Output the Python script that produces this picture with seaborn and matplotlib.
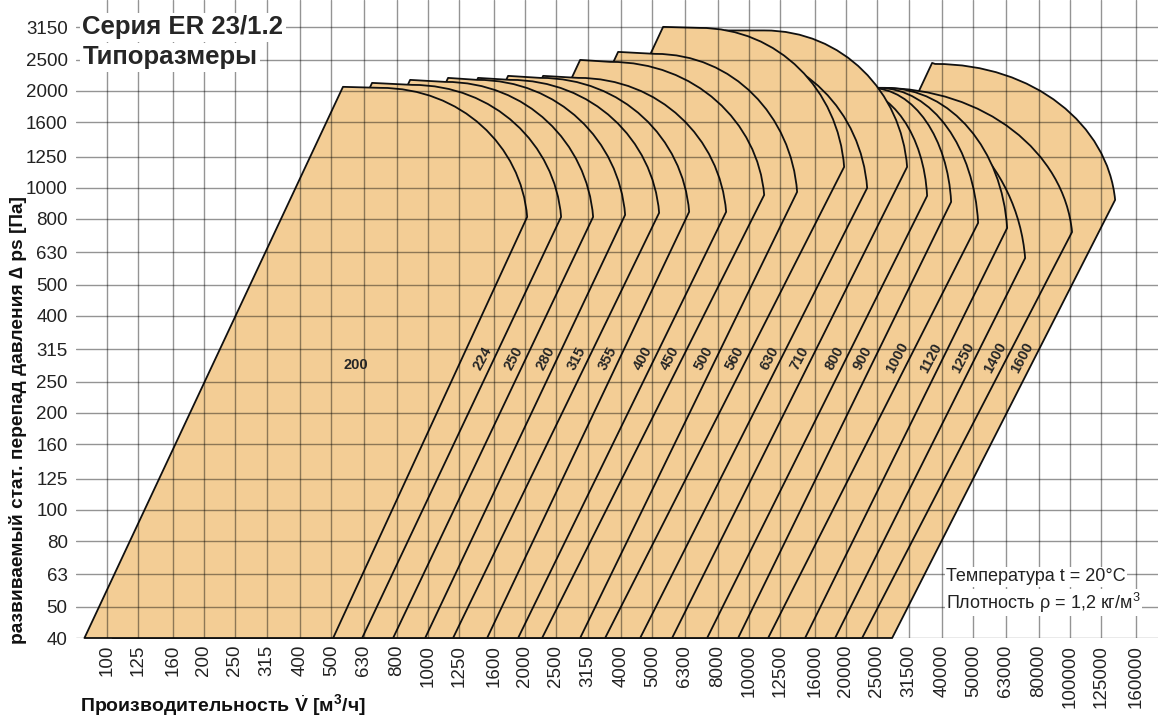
import math
import matplotlib
matplotlib.use("Agg")
import matplotlib.pyplot as plt
from matplotlib.path import Path
from matplotlib.patches import PathPatch
from matplotlib.ticker import NullLocator
import seaborn as sns

# envelope of each fan size (flow m3/h, pressure Pa)
sizes = ["200", "224", "250", "280", "315", "355", "400", "450", "500", "560",
         "630", "710", "800", "900", "1000", "1120", "1250", "1400", "1600"]
v_left = [85, 104, 135, 176, 219, 269, 346, 429, 547, 699,
          979, 1098, 1713, 2124, 2541, 2829, 3040, 3386, 5396]
v_corner = [543, 669, 879, 1154, 1431, 1775, 2282, 2976, 3908, 5396,
            7037, 8419, 10820, 13420, 16060, 17880, 19210, 21390, 37160]
p_top = [2058, 2117, 2163, 2194, 2194, 2226, 2226, 2495, 2642, 3160,
         2680, 3080, 2043, 2043, 2043, 2043, 2043, 2043, 2442]
v_knee = [709, 892, 1130, 1421, 1801, 2234, 2933, 3690, 5095, 6986,
          8359, 11140, 20640, 23820, 25230, 26530, 19210, 25590, 37960]
p_knee = [2043, 2087, 2132, 2163, 2163, 2194, 2194, 2460, 2605, 3137,
          2680, 3080, 2043, 2043, 2043, 2043, 2043, 2043, 2424]
v_nose = [2035, 2596, 3266, 4109, 5244, 6504, 8480, 11140, 14110, 19770,
          23320, 31060, 35850, 42590, 51690, 63650, 72420, 101400, 138100]
p_nose = [812, 812, 812, 824, 836, 842, 842, 950, 971, 1161,
          999, 1161, 944, 904, 778, 750, 605, 729, 917]
v_right = [506, 623, 778, 979, 1196, 1527, 1907, 2265, 2976, 3560,
           4577, 5755, 7399, 9240, 11460, 14940, 18530, 22490, 27900]

x_ticks = [100, 125, 160, 200, 250, 315, 400, 500, 630, 800,
           1000, 1250, 1600, 2000, 2500, 3150, 4000, 5000, 6300, 8000,
           10000, 12500, 16000, 20000, 25000, 31500, 40000, 50000, 63000, 80000,
           100000, 125000, 160000]
y_ticks = [40, 50, 63, 80, 100, 125, 160, 200, 250, 315,
           400, 500, 630, 800, 1000, 1250, 1600, 2000, 2500, 3150]

p_min = 40
p_label = 296
fill = "#f3cd95"

sns.set_theme(style="white")
plt.rcParams["font.family"] = ["Liberation Sans Narrow", "Liberation Sans", "DejaVu Sans"]
plt.rcParams["mathtext.fontset"] = "custom"
plt.rcParams["mathtext.rm"] = "Liberation Sans"
plt.rcParams["mathtext.bf"] = "Liberation Sans:bold"

fig = plt.figure(figsize=(11.62, 7.26), dpi=100)
ax = fig.add_axes([0.0654, 0.1212, 0.9312, 0.8788])
ax.set_xscale("log")
ax.set_yscale("log")
ax.set_xlim(80, 187900)
ax.set_ylim(40, 3829)

# largest first so the smaller sizes sit on top
for i in reversed(range(len(sizes))):
    c1 = (v_knee[i] * (v_nose[i] / v_knee[i]) ** 0.55, p_knee[i])
    c2 = (v_knee[i] * (v_nose[i] / v_knee[i]) ** 0.96,
          p_nose[i] * (p_knee[i] / p_nose[i]) ** 0.55)
    verts = [(v_left[i], p_min), (v_corner[i], p_top[i]), (v_knee[i], p_knee[i]),
             c1, c2, (v_nose[i], p_nose[i]), (v_right[i], p_min), (v_left[i], p_min)]
    codes = [Path.MOVETO, Path.LINETO, Path.LINETO,
             Path.CURVE4, Path.CURVE4, Path.CURVE4, Path.LINETO, Path.CLOSEPOLY]
    ax.add_patch(PathPatch(Path(verts, codes), facecolor=fill, edgecolor="#111111",
                           linewidth=1.3, joinstyle="round", clip_on=False))

ax.text(594, 281, sizes[0], fontsize=10.5, fontweight="bold",
        family=["Liberation Sans", "DejaVu Sans"], ha="center", va="center", zorder=5)

for i in range(1, len(sizes)):
    t = math.log(p_label / p_min) / math.log(p_nose[i] / p_min)
    v = v_right[i] * (v_nose[i] / v_right[i]) ** t
    ax.annotate(sizes[i], (v, p_label), xytext=(-12, 0), textcoords="offset pixels",
                rotation=62, fontsize=10.5, fontweight="bold",
                ha="center", va="center", zorder=5)

ax.set_xticks(x_ticks)
ax.set_xticklabels([str(x) for x in x_ticks], rotation=90, fontsize=13.5)
ax.set_yticks(y_ticks)
ax.set_yticklabels([str(y) for y in y_ticks], fontsize=13.5,
                   family=["Liberation Sans", "DejaVu Sans"])
ax.xaxis.set_minor_locator(NullLocator())
ax.yaxis.set_minor_locator(NullLocator())
ax.tick_params(axis="x", length=0, pad=5, colors="#222222")
ax.tick_params(axis="y", length=4, width=1, color="#777777", pad=2, labelcolor="#222222")
ax.set_axisbelow(False)
ax.grid(True, color="black", alpha=0.42, linewidth=1.0)
for s in ax.spines.values():
    s.set_visible(False)

ax.text(0.006, 0.957, "Серия ER 23/1.2", transform=ax.transAxes, fontsize=18.5,
        fontweight="bold", family=["Liberation Sans", "DejaVu Sans"], va="center",
        bbox=dict(facecolor="white", edgecolor="none", pad=2), zorder=6)
ax.text(0.006, 0.910, "Типоразмеры", transform=ax.transAxes, fontsize=18.5,
        fontweight="bold", family=["Liberation Sans", "DejaVu Sans"], va="center",
        bbox=dict(facecolor="white", edgecolor="none", pad=2), zorder=6)

ax.text(0.804, 0.096, "Температура t = 20°C", transform=ax.transAxes, fontsize=13,
        va="center", color="#222222",
        bbox=dict(facecolor="white", edgecolor="none", pad=1), zorder=6)
ax.text(0.804, 0.055, "Плотность ρ = 1,2 кг/м$^3$", transform=ax.transAxes, fontsize=13,
        va="center", color="#222222",
        bbox=dict(facecolor="white", edgecolor="none", pad=1), zorder=6)

fig.text(0.0155, 0.4215, "развиваемый стат. перепад давления ∆ ps [Па]", rotation=90,
         fontsize=13.8, fontweight="bold", ha="center", va="center", color="#111111")
fig.text(0.069, 0.0275, r"Производительность $\dot{\mathbf{V}}$ [м$^{\mathbf{3}}$/ч]",
         fontsize=14, fontweight="bold", ha="left", va="center", color="#111111")

fig.savefig("out.png", dpi=100)
